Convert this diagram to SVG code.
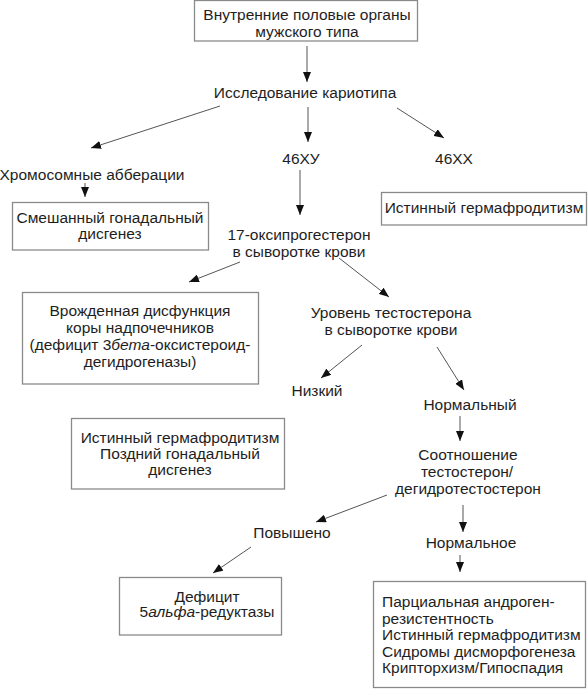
<svg xmlns="http://www.w3.org/2000/svg" width="588" height="690" viewBox="0 0 588 690">
<style>
text{font-family:"Liberation Sans",Arial,sans-serif;font-size:15.5px;fill:#1e1e1e}
.c{text-anchor:middle}
.box{fill:#fff;stroke:#8a8a8a;stroke-width:1.3}
.ln{stroke:#555;stroke-width:1;fill:none;marker-end:url(#ah)}
i{font-style:italic}
</style>
<defs>
<marker id="ah" markerUnits="userSpaceOnUse" markerWidth="10" markerHeight="8" refX="10" refY="4" orient="auto">
<path d="M0,0 L10,4 L0,8 z" fill="#111"/>
</marker>
</defs>
<rect width="588" height="690" fill="#fff"/>
<g id="connectors">
<line class="ln" x1="307" y1="46" x2="307" y2="82"/>
<line class="ln" x1="220" y1="106" x2="91" y2="148"/>
<line class="ln" x1="308" y1="107" x2="308" y2="142"/>
<line class="ln" x1="397" y1="108" x2="444" y2="138"/>
<line class="ln" x1="85" y1="183" x2="85" y2="197"/>
<line class="ln" x1="300" y1="170" x2="300" y2="215"/>
<line class="ln" x1="240" y1="262" x2="189" y2="282"/>
<line class="ln" x1="339" y1="258" x2="389" y2="297"/>
<line class="ln" x1="362" y1="345" x2="321" y2="378"/>
<line class="ln" x1="437" y1="347" x2="464" y2="390"/>
<line class="ln" x1="460" y1="416" x2="460" y2="441"/>
<line class="ln" x1="387" y1="495" x2="316" y2="522"/>
<line class="ln" x1="463" y1="505" x2="463" y2="532"/>
<line class="ln" x1="460" y1="555" x2="460" y2="572"/>
<line class="ln" x1="251" y1="547" x2="213" y2="573"/>
</g>
<g id="n-top">
<rect class="box" x="194.5" y="0.5" width="223" height="40.5"/>
<text class="c" x="307" y="20">Внутренние половые органы</text>
<text class="c" x="307" y="37">мужского типа</text>
</g>
<g id="n-karyo"><text class="c" x="305" y="98">Исследование кариотипа</text></g>
<g id="n-chrom"><text class="c" x="92" y="180">Хромосомные абберации</text></g>
<g id="n-46xy"><text class="c" x="301" y="164">46ХУ</text></g>
<g id="n-46xx"><text class="c" x="454" y="164">46ХХ</text></g>
<g id="n-mixed">
<rect class="box" x="12.5" y="202.5" width="196" height="47.5"/>
<text class="c" x="110" y="223">Смешанный гонадальный</text>
<text class="c" x="110" y="239">дисгенез</text>
</g>
<g id="n-true1">
<rect class="box" x="381.5" y="192.5" width="205" height="32.5"/>
<text class="c" x="484" y="213">Истинный гермафродитизм</text>
</g>
<g id="n-17oh">
<text class="c" x="299" y="240">17-оксипрогестерон</text>
<text class="c" x="299" y="257">в сыворотке крови</text>
</g>
<g id="n-cah">
<rect class="box" x="22.5" y="292.5" width="236" height="91.5"/>
<text class="c" x="140" y="316">Врожденная дисфункция</text>
<text class="c" x="140" y="333">коры надпочечников</text>
<text class="c" x="140" y="350">(дефицит 3<tspan font-style="italic">бета</tspan>-оксистероид-</text>
<text class="c" x="140" y="367">дегидрогеназы)</text>
</g>
<g id="n-testo">
<text class="c" x="391" y="318">Уровень тестостерона</text>
<text class="c" x="391" y="335">в сыворотке крови</text>
</g>
<g id="n-low"><text class="c" x="317" y="396">Низкий</text></g>
<g id="n-normal"><text class="c" x="470" y="410">Нормальный</text></g>
<g id="n-true2">
<rect class="box" x="71.5" y="418.5" width="213" height="70.5"/>
<text class="c" x="180" y="443">Истинный гермафродитизм</text>
<text class="c" x="180" y="459">Поздний гонадальный</text>
<text class="c" x="180" y="475">дисгенез</text>
</g>
<g id="n-ratio">
<text class="c" x="468" y="460">Соотношение</text>
<text class="c" x="467" y="477">тестостерон/</text>
<text class="c" x="468" y="494">дегидротестостерон</text>
</g>
<g id="n-raised"><text class="c" x="292" y="538">Повышено</text></g>
<g id="n-normal2"><text class="c" x="471" y="548">Нормальное</text></g>
<g id="n-5ar">
<rect class="box" x="119.5" y="577.5" width="162" height="57.5"/>
<text class="c" x="207" y="602">Дефицит</text>
<text class="c" x="207" y="617">5<tspan font-style="italic">альфа</tspan>-редуктазы</text>
</g>
<g id="n-pais">
<rect class="box" x="373.5" y="581.5" width="212" height="106"/>
<text x="382" y="607">Парциальная андроген-</text>
<text x="382" y="624">резистентность</text>
<text x="382" y="640">Истинный гермафродитизм</text>
<text x="382" y="657">Сидромы дисморфогенеза</text>
<text x="382" y="673">Крипторхизм/Гипоспадия</text>
</g>
</svg>
